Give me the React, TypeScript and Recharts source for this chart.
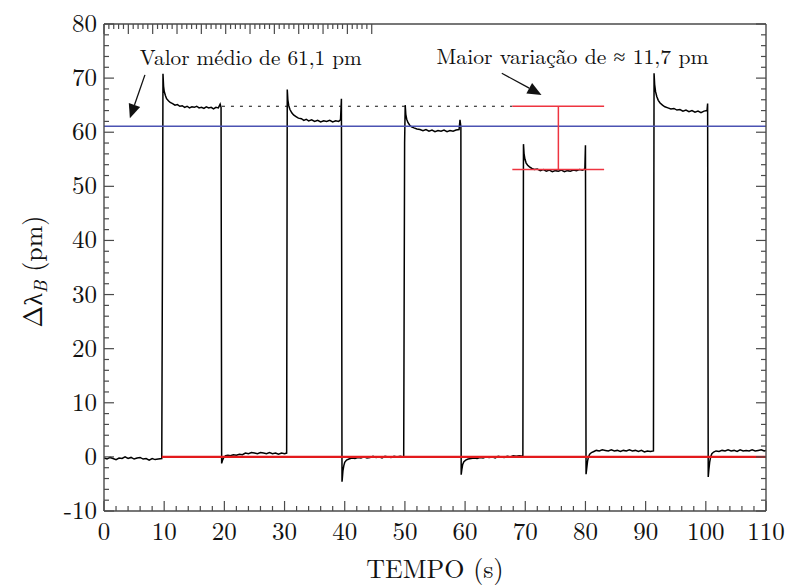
import React from 'react';
import { LineChart, Line, XAxis, YAxis, ReferenceLine, ReferenceDot } from 'recharts';

// ---- data: Δλ_B (pm) vs TEMPO (s) ----
const base0: number[][] = [
  [0, -0.2], [0.5, -0.4], [1, -0.1], [1.5, -0.3], [2, -0.5], [2.5, -0.2], [3, -0.3], [3.5, 0.0], [4, -0.3],
  [4.5, -0.1], [5, -0.4], [5.5, -0.2], [6, -0.1], [6.5, -0.4], [7, -0.3], [7.5, -0.6], [8, -0.3], [8.5, -0.5],
  [9, -0.4], [9.6, -0.3],
];
const pulse1: number[][] = [
  [9.75, 50], [9.8, 70.8], [9.9, 68.5], [10.0, 67.6], [10.2, 66.8], [10.4, 66.2], [10.7, 65.8], [11.0, 65.5],
  [11.4, 65.3], [11.8, 65.0], [12.2, 65.1], [12.6, 64.8], [13, 64.9], [13.4, 64.6], [13.8, 64.8], [14.2, 64.5],
  [14.6, 64.7], [15, 64.6], [15.4, 64.8], [15.8, 64.5], [16.2, 64.6], [16.6, 64.4], [17, 64.7], [17.4, 64.5],
  [17.8, 64.6], [18.2, 64.3], [18.6, 64.6], [19, 64.5], [19.3, 65.2], [19.45, 64.6],
];
const base1: number[][] = [
  [19.55, -1.2], [19.7, -0.6], [19.9, -0.1], [20.2, 0.2], [20.6, 0.3], [21, 0.2], [21.5, 0.4], [22, 0.3],
  [22.5, 0.5], [23, 0.4], [23.5, 0.7], [24, 0.6], [24.5, 0.8], [25, 0.7], [25.5, 0.6], [26, 0.8], [26.5, 0.7],
  [27, 0.6], [27.5, 0.8], [28, 0.6], [28.5, 0.7], [29, 0.5], [29.5, 0.7], [30.0, 0.6], [30.35, 0.7],
];
const pulse2: number[][] = [
  [30.45, 67.9], [30.55, 66.0], [30.7, 64.9], [30.9, 64.2], [31.2, 63.6], [31.5, 63.2], [31.9, 62.9],
  [32.3, 62.6], [32.8, 62.5], [33.2, 62.2], [33.6, 62.4], [34, 62.1], [34.5, 62.3], [35, 62.0], [35.5, 62.2],
  [36, 61.9], [36.5, 62.1], [37, 62.0], [37.5, 62.2], [38, 61.9], [38.5, 62.1], [39, 62.0], [39.3, 62.3],
  [39.45, 66.2],
];
const base2: number[][] = [
  [39.55, -4.6], [39.6, -4.0], [39.7, -2.6], [39.85, -1.6], [40.0, -1.0], [40.3, -0.6], [40.7, -0.4],
  [41.2, -0.2], [41.7, -0.3], [42.2, -0.1], [42.7, -0.2], [43.2, 0.0], [43.7, -0.2], [44.2, -0.1], [44.7, 0.1],
  [45.2, -0.1], [45.7, 0.0], [46.2, -0.2], [46.7, 0.1], [47.2, 0.0], [47.7, -0.1], [48.2, 0.1], [48.7, 0.0],
  [49.2, 0.1], [49.8, 0.0],
];
const pulse3: number[][] = [
  [49.95, 58], [50.05, 65.0], [50.15, 63.3], [50.3, 62.4], [50.5, 61.8], [50.8, 61.3], [51.1, 61.0],
  [51.5, 60.8], [52, 60.6], [52.5, 60.5], [53, 60.3], [53.5, 60.5], [54, 60.2], [54.5, 60.4], [55, 60.1],
  [55.5, 60.3], [56, 60.2], [56.5, 60.4], [57, 60.1], [57.5, 60.3], [58, 60.2], [58.5, 60.4], [59, 60.5],
  [59.15, 62.3], [59.3, 61.0],
];
const base3: number[][] = [
  [59.35, -3.3], [59.45, -2.4], [59.6, -1.4], [59.8, -0.9], [60.1, -0.6], [60.5, -0.4], [61, -0.3],
  [61.5, -0.2], [62, -0.3], [62.5, -0.1], [63, -0.2], [63.5, 0.0], [64, -0.1], [64.5, 0.0], [65, -0.2],
  [65.5, 0.1], [66, 0.0], [66.5, -0.1], [67, 0.1], [67.5, 0.0], [68, 0.2], [68.5, 0.1], [69, 0.2], [69.6, 0.1],
];
const pulse4: number[][] = [
  [69.7, 57.8], [69.8, 56.0], [69.95, 55.0], [70.15, 54.3], [70.4, 53.9], [70.7, 53.6], [71.1, 53.3],
  [71.5, 53.1], [72, 53.2], [72.5, 52.9], [73, 53.1], [73.5, 52.8], [74, 53.0], [74.5, 52.7], [75, 52.9],
  [75.5, 52.8], [76, 53.0], [76.5, 52.7], [77, 52.9], [77.5, 52.8], [78, 53.0], [78.5, 52.9], [79, 53.1],
  [79.5, 53.0], [79.9, 53.2], [80.0, 57.6],
];
const base4: number[][] = [
  [80.1, -3.2], [80.2, -2.2], [80.35, -0.8], [80.5, 0.0], [80.7, 0.5], [81, 0.8], [81.4, 1.0], [81.8, 1.2],
  [82.3, 1.1], [82.8, 1.3], [83.3, 1.2], [83.8, 1.1], [84.3, 1.3], [84.8, 1.1], [85.3, 1.2], [85.8, 1.0],
  [86.3, 1.2], [86.8, 1.1], [87.3, 1.3], [87.8, 1.1], [88.3, 1.2], [88.8, 1.0], [89.3, 1.2], [89.8, 0.9],
  [90.3, 1.1], [90.8, 1.0], [91.3, 1.1],
];
const pulse5: number[][] = [
  [91.4, 70.9], [91.5, 68.8], [91.65, 67.5], [91.85, 66.6], [92.1, 65.9], [92.4, 65.4], [92.8, 65.0],
  [93.2, 64.7], [93.7, 64.5], [94.2, 64.3], [94.7, 64.4], [95.2, 64.1], [95.7, 64.2], [96.2, 63.9],
  [96.7, 64.1], [97.2, 63.8], [97.7, 64.0], [98.2, 63.7], [98.7, 63.9], [99.2, 63.6], [99.7, 63.9],
  [100.2, 64.0], [100.3, 65.3],
];
const base5: number[][] = [
  [100.4, -3.7], [100.5, -2.4], [100.65, -0.9], [100.8, 0.0], [101, 0.6], [101.3, 0.9], [101.7, 1.1],
  [102.2, 1.0], [102.7, 1.2], [103.2, 1.1], [103.7, 1.3], [104.2, 1.1], [104.7, 1.2], [105.2, 1.0],
  [105.7, 1.3], [106.2, 1.1], [106.7, 1.2], [107.2, 1.1], [107.7, 1.3], [108.2, 1.1], [108.7, 1.2],
  [109.2, 1.3], [109.7, 1.1], [110, 1.2],
];

const mediaValue = 61.1;
const maxLevel = 64.8;
const minLevel = 53.1;
const zeroStart = 9.6;
const dottedStart = 19.6;
const barLeft = 67.85;
const barRight = 83.1;
const barMid = 75.5;

const xMajor = [0, 10, 20, 30, 40, 50, 60, 70, 80, 90, 100, 110];
const yMajor = [-10, 0, 10, 20, 30, 40, 50, 60, 70, 80];
const xTicks = Array.from({ length: 56 }, (_, i) => i * 2);
const yTicks = Array.from({ length: 46 }, (_, i) => -10 + i * 2);

const label1 = { text: 'Valor médio de 61,1 pm', x: 24.4, y: 72.4, width: 222 };
const label2 = { text: 'Maior variação de ≈ 11,7 pm', x: 77.85, y: 72.6, width: 272 };
const arrow1 = [{ x: 6.8, y: 70.6 }, { x: 4.3, y: 62.6 }];
const arrow2 = [{ x: 66.1, y: 70.9 }, { x: 72.7, y: 66.9 }];

const signal = [...base0, ...pulse1, ...base1, ...pulse2, ...base2, ...pulse3, ...base3, ...pulse4, ...base4, ...pulse5, ...base5]
  .map(([t, v]) => ({ t, v }));

const SERIF = { fontFamily: "'Latin Modern Roman'" };
const AXIS = '#4a4a4a';
const TXT = '#111';

const isMajorX = (v: number) => xMajor.includes(v);
const isMajorY = (v: number) => yMajor.includes(v);

const BottomTick = (p: any) => {
  const { x, y, payload } = p;
  const m = isMajorX(payload.value);
  return (
    <g>
      <line x1={x} x2={x} y1={y} y2={y - (m ? 10 : 5)} stroke={AXIS} strokeWidth={1.2} />
      {m && (
        <text x={x} y={y + 29} textAnchor="middle" style={SERIF} fontSize={25} fill={TXT}>
          {payload.value}
        </text>
      )}
    </g>
  );
};
const TopTick = (p: any) => {
  const { x, y, payload } = p;
  const m = isMajorX(payload.value);
  return <line x1={x} x2={x} y1={y} y2={y + (m ? 10 : 5)} stroke={AXIS} strokeWidth={1.2} />;
};
const LeftTick = (p: any) => {
  const { x, y, payload } = p;
  const m = isMajorY(payload.value);
  return (
    <g>
      <line x1={x} x2={x + (m ? 10 : 5)} y1={y} y2={y} stroke={AXIS} strokeWidth={1.2} />
      {m && (
        <text x={x - 7} y={y + 8} textAnchor="end" style={SERIF} fontSize={25} fill={TXT}>
          {payload.value}
        </text>
      )}
    </g>
  );
};
const RightTick = (p: any) => {
  const { x, y, payload } = p;
  const m = isMajorY(payload.value);
  return <line x1={x} x2={x - (m ? 10 : 5)} y1={y} y2={y} stroke={AXIS} strokeWidth={1.2} />;
};

const ArrowShape = (p: any) => {
  const { x1, y1, x2, y2 } = p;
  const dx = x2 - x1;
  const dy = y2 - y1;
  const len = Math.sqrt(dx * dx + dy * dy) || 1;
  const ux = dx / len;
  const uy = dy / len;
  const hl = 14;
  const hw = 6;
  const bx = x2 - ux * hl;
  const by = y2 - uy * hl;
  const pts = `${x2},${y2} ${bx - uy * hw},${by + ux * hw} ${bx + uy * hw},${by - ux * hw}`;
  return (
    <g>
      <line x1={x1} y1={y1} x2={bx} y2={by} stroke="#111" strokeWidth={1.3} />
      <polygon points={pts} fill="#111" />
    </g>
  );
};

const makeTextShape = (lab: { text: string; width: number }) => (p: any) => (
  <text
    x={p.cx}
    y={p.cy}
    textAnchor="middle"
    style={SERIF}
    fontSize={21}
    fill={TXT}
    textLength={lab.width}
    lengthAdjust="spacingAndGlyphs"
  >
    {lab.text}
  </text>
);

const XTitle = (p: any) => {
  const vb = p.viewBox || { x: 104, y: 511, width: 662, height: 77 };
  return (
    <text x={vb.x + vb.width / 2} y={vb.y + 67} textAnchor="middle" style={SERIF} fontSize={26} fill={TXT}>
      TEMPO (s)
    </text>
  );
};
const YTitle = (p: any) => {
  const vb = p.viewBox || { x: 0, y: 24, width: 104, height: 487 };
  const cx = vb.x + 42;
  const cy = vb.y + vb.height / 2 + 4;
  return (
    <text
      transform={`translate(${cx},${cy}) rotate(-90)`}
      textAnchor="middle"
      style={SERIF}
      fontSize={26}
      fill={TXT}
    >
      Δλ
      <tspan fontSize={18} fontStyle="italic" dy={5}>B</tspan>
      <tspan dy={-5}> (pm)</tspan>
    </text>
  );
};

export default function App() {
  return (
    <div style={{ position: 'absolute', left: 0, top: 0, width: 792, height: 588, background: '#fff' }}>
      <LineChart width={792} height={588} data={signal} margin={{ top: 0, right: 0, bottom: 0, left: 0 }}>
        <XAxis
          dataKey="t"
          type="number"
          domain={[0, 110]}
          ticks={xTicks}
          interval={0}
          tickSize={0}
          tickMargin={0}
          tickLine={false}
          tick={BottomTick}
          height={77}
          axisLine={{ stroke: AXIS, strokeWidth: 1.4 }}
          allowDataOverflow
          label={{ content: XTitle }}
        />
        <XAxis
          xAxisId="top"
          orientation="top"
          type="number"
          domain={[0, 110]}
          ticks={xTicks}
          interval={0}
          tickSize={0}
          tickMargin={0}
          tickLine={false}
          tick={TopTick}
          height={24}
          axisLine={{ stroke: AXIS, strokeWidth: 1.4 }}
          allowDataOverflow
        />
        <YAxis
          type="number"
          domain={[-10, 80]}
          ticks={yTicks}
          interval={0}
          tickSize={0}
          tickMargin={0}
          tickLine={false}
          tick={LeftTick}
          width={104}
          axisLine={{ stroke: AXIS, strokeWidth: 1.4 }}
          allowDataOverflow
          label={{ content: YTitle }}
        />
        <YAxis
          yAxisId="right"
          orientation="right"
          type="number"
          domain={[-10, 80]}
          ticks={yTicks}
          interval={0}
          tickSize={0}
          tickMargin={0}
          tickLine={false}
          tick={RightTick}
          width={26}
          axisLine={{ stroke: AXIS, strokeWidth: 1.4 }}
          allowDataOverflow
        />
        <Line
          dataKey="v"
          type="linear"
          stroke="#000"
          strokeWidth={1.5}
          dot={false}
          isAnimationActive={false}
        />
        <ReferenceLine y={mediaValue} stroke="#4b52b2" strokeWidth={1.6} />
        <ReferenceLine
          segment={[{ x: zeroStart, y: 0 }, { x: 110, y: 0 }]}
          stroke="#e31a1c"
          strokeWidth={2.2}
        />
        <ReferenceLine
          segment={[{ x: dottedStart, y: maxLevel }, { x: barLeft, y: maxLevel }]}
          stroke="#111"
          strokeWidth={1.1}
          strokeDasharray="3 6"
        />
        <ReferenceLine segment={[{ x: barLeft, y: maxLevel }, { x: barRight, y: maxLevel }]} stroke="#ee3440" strokeWidth={1.5} />
        <ReferenceLine segment={[{ x: barLeft, y: minLevel }, { x: barRight, y: minLevel }]} stroke="#ee3440" strokeWidth={1.5} />
        <ReferenceLine segment={[{ x: barMid, y: minLevel }, { x: barMid, y: maxLevel }]} stroke="#ee3440" strokeWidth={1.5} />
        <ReferenceLine segment={arrow1} shape={ArrowShape} />
        <ReferenceLine segment={arrow2} shape={ArrowShape} />
        <ReferenceDot x={label1.x} y={label1.y} r={0} shape={makeTextShape(label1)} />
        <ReferenceDot x={label2.x} y={label2.y} r={0} shape={makeTextShape(label2)} />
      </LineChart>
    </div>
  );
}
